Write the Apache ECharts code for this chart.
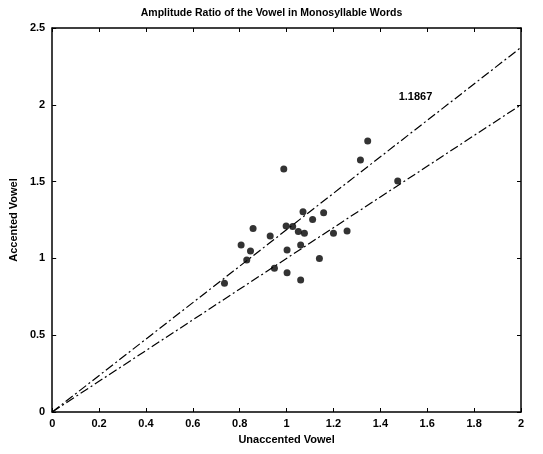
<!DOCTYPE html>
<html>
<head>
<meta charset="utf-8">
<script src="https://cdn.jsdelivr.net/npm/echarts@6/dist/echarts.min.js"></script>
<style>
html,body{margin:0;padding:0;background:#fff;}
#chart{width:543px;height:454px;}
</style>
</head>
<body>
<div id="chart"></div>
<script>
const titleText = 'Amplitude Ratio of the Vowel in Monosyllable Words';
const xName = 'Unaccented Vowel';
const yName = 'Accented Vowel';
const unaccented = [1.346,1.315,0.988,1.474,1.07,1.158,1.111,0.857,0.998,1.026,1.05,1.076,0.93,1.2,1.258,0.806,0.846,1.002,1.06,0.83,1.14,0.948,1.002,1.06,0.735];
const accented   = [1.764,1.640,1.582,1.504,1.304,1.298,1.254,1.195,1.211,1.207,1.175,1.163,1.146,1.163,1.178,1.087,1.048,1.055,1.087,0.99,1.0,0.936,0.907,0.859,0.838];
const fitSlope = 1.1867;
const unitSlope = 1;
const lineX = [0, 2];
const fitLabel = '1.1867';
const fitLabelPos = [1.55, 2.05];
const xTicks = [0,0.2,0.4,0.6,0.8,1,1.2,1.4,1.6,1.8,2];
const yTicks = [0,0.5,1,1.5,2,2.5];

const font = 'Liberation Sans, Arial, sans-serif';
const points = unaccented.map((x,i)=>[x, accented[i]]);
const dashDot = [9,3,2,3];

const chart = echarts.init(document.getElementById('chart'));
const axisCommon = {
  axisLine:{show:true, onZero:false, lineStyle:{color:'#000', width:1.5}},
  axisTick:{show:true, inside:true, length:4, lineStyle:{color:'#000', width:1}},
  splitLine:{show:false}
};
chart.setOption({
  animation:false,
  backgroundColor:'#fff',
  title:{text:titleText, left:'center', top:3, textStyle:{fontFamily:font, fontSize:10.5, fontWeight:'bold', color:'#000'}},
  grid:{left:51, right:22, top:28, bottom:42},
  xAxis:[
    Object.assign({type:'value', min:0, max:2, interval:0.2, position:'bottom',
      name:xName, nameLocation:'middle', nameGap:22,
      nameTextStyle:{fontFamily:font, fontSize:11, fontWeight:'bold', color:'#000'},
      axisLabel:{fontFamily:font, fontSize:11, fontWeight:'bold', color:'#000', margin:6,
        formatter:v=>String(+v.toFixed(1))}}, axisCommon),
    Object.assign({type:'value', min:0, max:2, interval:0.2, position:'top', axisLabel:{show:false}}, axisCommon)
  ],
  yAxis:[
    Object.assign({type:'value', min:0, max:2.5, interval:0.5, position:'left',
      name:yName, nameLocation:'middle', nameGap:33, nameRotate:90,
      nameTextStyle:{fontFamily:font, fontSize:11, fontWeight:'bold', color:'#000'},
      axisLabel:{fontFamily:font, fontSize:11, fontWeight:'bold', color:'#000', margin:7}}, axisCommon),
    Object.assign({type:'value', min:0, max:2.5, interval:0.5, position:'right', axisLabel:{show:false}}, axisCommon)
  ],
  series:[
    {type:'scatter', data:points, symbol:'circle', symbolSize:7, itemStyle:{color:'#000'}},
    {type:'line', data:lineX.map(x=>[x, x*fitSlope]), symbol:'none',
      lineStyle:{color:'#000', width:1.2, type:dashDot},
      markPoint:{symbol:'circle', symbolSize:0,
        data:[{coord:fitLabelPos, value:fitLabel}],
        label:{show:true, formatter:fitLabel, fontFamily:font, fontSize:11, fontWeight:'bold', color:'#000'}}},
    {type:'line', data:lineX.map(x=>[x, x*unitSlope]), symbol:'none',
      lineStyle:{color:'#000', width:1.2, type:dashDot}}
  ]
});
</script>
</body>
</html>
